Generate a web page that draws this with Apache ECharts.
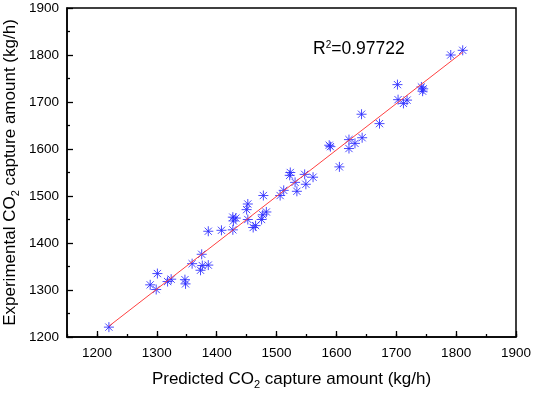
<!DOCTYPE html>
<html>
<head>
<meta charset="utf-8">
<script src="https://cdn.jsdelivr.net/npm/echarts@6/dist/echarts.min.js"></script>
<style>
  html, body { margin: 0; padding: 0; background: #fff; }
  #chart { width: 533px; height: 393px; }
</style>
</head>
<body>
<div id="chart"></div>
<script>
  // predicted vs experimental CO2 capture amount (kg/h)
  var predicted = [1220, 1289, 1299, 1301, 1318, 1324, 1347, 1348, 1359, 1373,
    1375, 1376, 1386, 1386, 1408, 1427, 1427, 1432, 1428, 1450,
    1452, 1452, 1461, 1465, 1475, 1477, 1483, 1478, 1506, 1512,
    1522, 1523, 1531, 1534, 1549, 1547, 1561, 1588, 1590, 1605,
    1621, 1621, 1631, 1643, 1642, 1672, 1702, 1703, 1712, 1718,
    1742, 1744, 1745, 1791, 1811]
  var experimental = [1221, 1311, 1301, 1335, 1318, 1323, 1322, 1313, 1356, 1342,
    1376, 1352, 1353, 1425, 1427, 1428, 1455, 1453, 1447, 1471,
    1483, 1450, 1433, 1437, 1450, 1460, 1466, 1501, 1501, 1512,
    1544, 1550, 1529, 1510, 1525, 1546, 1540, 1608, 1605, 1562,
    1620, 1601, 1612, 1624, 1674, 1654, 1737, 1705, 1697, 1704,
    1732, 1723, 1728, 1800, 1810]
  // fitted line end points
  var fitX = [1220, 1811]
  var fitY = [1223, 1806]
  var r2Text = '0.97722'
  var xTicks = [1200, 1300, 1400, 1500, 1600, 1700, 1800, 1900]

  var points = predicted.map(function (v, i) { return [v, experimental[i]] })
  var fitLine = fitX.map(function (v, i) { return [v, fitY[i]] })

  var font = '"Liberation Sans", Arial, sans-serif'
  var star = 'path://M0,-5L0,5M-5,0L5,0M-3.6,-3.6L3.6,3.6M3.6,-3.6L-3.6,3.6'
  var nameStyle = {
    fontFamily: font, fontSize: 17, color: '#000',
    rich: { sub: { fontFamily: font, fontSize: 11, color: '#000', padding: [11, 0, 0, 0] } }
  }

  var chart = echarts.init(document.getElementById('chart'))
  chart.setOption({
    animation: false,
    grid: {
      left: 67, right: 17, top: 8, bottom: 56,
      outerBoundsMode: 'none',
      show: true, borderColor: '#000', borderWidth: 1.5
    },
    xAxis: [{
      // labels + minor ticks every 50
      type: 'value', min: 1150, max: 1900, interval: 50,
      name: 'Predicted CO{sub|2} capture amount (kg/h)',
      nameLocation: 'middle', nameGap: 31,
      nameTextStyle: nameStyle,
      axisLine: { lineStyle: { color: '#000', width: 1.5 } },
      axisTick: { inside: true, length: 3, lineStyle: { color: '#000', width: 1.3 } },
      axisLabel: {
        fontFamily: font, fontSize: 13.5, color: '#000', margin: 9,
        formatter: function (v) { return v % 100 === 0 ? String(v) : '' }
      },
      splitLine: { show: false }
    }, {
      // major ticks every 100
      type: 'value', min: 1150, max: 1900, position: 'bottom',
      axisLine: { show: false },
      axisTick: { inside: true, length: 6, customValues: xTicks, lineStyle: { color: '#000', width: 1.3 } },
      axisLabel: { show: false },
      splitLine: { show: false }
    }],
    yAxis: {
      type: 'value', min: 1200, max: 1900, interval: 100,
      name: 'Experimental CO{sub|2} capture amount (kg/h)',
      nameLocation: 'middle', nameGap: 46, nameMoveOverlap: false,
      nameTextStyle: nameStyle,
      axisLine: { lineStyle: { color: '#000', width: 1.5 } },
      axisTick: { inside: true, length: 6, lineStyle: { color: '#000', width: 1.3 } },
      minorTick: { show: true, splitNumber: 2, length: 3, lineStyle: { color: '#000', width: 1.3 } },
      axisLabel: {
        fontFamily: font, fontSize: 13.5, color: '#000', margin: 8,
        formatter: function (v) { return String(v) }
      },
      splitLine: { show: false }
    },
    graphic: [{
      type: 'text', left: 313, top: 40,
      style: {
        text: 'R{sup|2}=' + r2Text,
        fontFamily: font, fontSize: 17.5, fill: '#000',
        rich: {
          sup: { fontFamily: font, fontSize: 10, fill: '#000', padding: [0, 0, 9, 0] }
        }
      }
    }],
    series: [{
      type: 'line',
      data: fitLine,
      showSymbol: false,
      lineStyle: { color: '#ff4040', width: 1 },
      z: 3
    }, {
      type: 'scatter',
      data: points,
      symbol: star,
      symbolSize: 10,
      itemStyle: { color: 'rgba(0,0,0,0)', borderColor: '#2a2aff', borderWidth: 1, opacity: 0.85 },
      z: 2
    }]
  })
</script>
</body>
</html>
